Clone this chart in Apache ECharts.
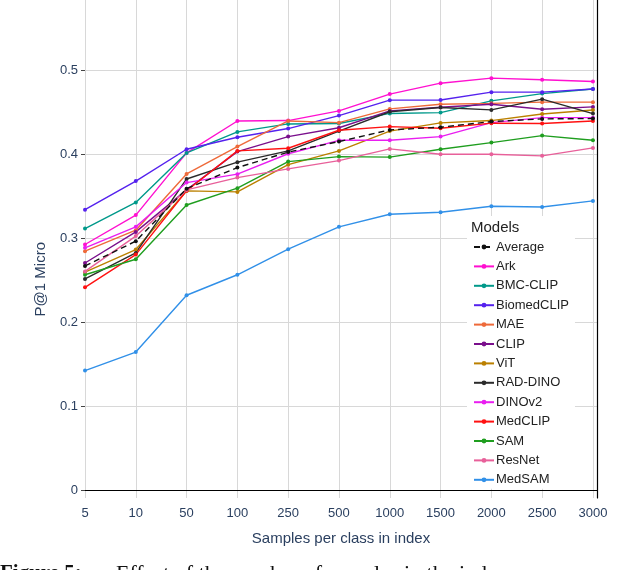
<!DOCTYPE html>
<html>
<head>
<meta charset="utf-8">
<script src="https://cdn.jsdelivr.net/npm/echarts@6/dist/echarts.min.js"></script>
<style>html,body{margin:0;padding:0;background:#fff}#c{width:636px;height:570px}</style>
</head>
<body>
<div id="c"></div>
<script>
const xCats = ['5','10','50','100','250','500','1000','1500','2000','2500','3000'];
const yTicks = [0, 0.1, 0.2, 0.3, 0.4, 0.5];
const seriesNames = ['Average','Ark','BMC-CLIP','BiomedCLIP','MAE','CLIP','ViT','RAD-DINO','DINOv2','MedCLIP','SAM','ResNet','MedSAM'];
const average    = [0.2675,0.297,0.3595,0.3845,0.403,0.4155,0.4294,0.4326,0.4393,0.4425,0.4429];
const ark        = [0.293,0.328,0.402,0.440,0.4405,0.452,0.472,0.485,0.491,0.489,0.487];
const bmcClip    = [0.312,0.343,0.402,0.427,0.4365,0.437,0.449,0.450,0.464,0.4726,0.478];
const biomedClip = [0.3345,0.3685,0.4064,0.4207,0.431,0.4464,0.4648,0.465,0.4743,0.4743,0.478];
const mae        = [0.285,0.310,0.377,0.4095,0.440,0.438,0.4544,0.460,0.461,0.4624,0.4624];
const clip       = [0.271,0.308,0.358,0.4036,0.4214,0.432,0.452,0.4564,0.460,0.454,0.4568];
const vit        = [0.260,0.287,0.3568,0.3556,0.388,0.4044,0.428,0.4377,0.4405,0.4484,0.453];
const radDino    = [0.252,0.283,0.371,0.391,0.4044,0.428,0.451,0.456,0.4532,0.466,0.4488];
const dinov2     = [0.289,0.314,0.3667,0.3767,0.401,0.417,0.417,0.4214,0.438,0.444,0.444];
const medClip    = [0.242,0.281,0.357,0.4044,0.4076,0.429,0.4333,0.4314,0.4374,0.437,0.440];
const sam        = [0.257,0.2755,0.340,0.360,0.3917,0.3976,0.397,0.4064,0.4143,0.4226,0.4171];
const resnet     = [0.261,0.303,0.358,0.3726,0.383,0.3929,0.4068,0.4005,0.4005,0.3985,0.408];
const medSam     = [0.143,0.165,0.2326,0.257,0.2874,0.314,0.329,0.3314,0.3386,0.3377,0.3449];
const seriesValues = [average, ark, bmcClip, biomedClip, mae, clip, vit, radDino, dinov2, medClip, sam, resnet, medSam];
const colors = ['#111111','#ff10d0','#00998a','#5522ee','#ee6a3a','#7a0f8c','#bb8000','#2b2b2b','#e91ef0','#ff1111','#1f9e1f','#e8609a','#3190e8'];

const FONT = 'Liberation Sans, Arial, sans-serif';
const TXT = '#2a3f5f';

const chart = echarts.init(document.getElementById('c'), null, {renderer: 'canvas'});
const series = seriesNames.map((name, k) => ({
  name: name,
  type: 'line',
  data: seriesValues[k].map((v, i) => [i, v]),
  symbol: 'circle',
  symbolSize: 4,
  showSymbol: true,
  color: colors[k],
  lineStyle: {width: 1.4, type: k === 0 ? [6, 4] : 'solid', color: colors[k]},
  itemStyle: {color: colors[k]},
  z: k === 0 ? 3 : 2
}));

chart.setOption({
  animation: false,
  backgroundColor: '#fff',
  grid: {left: 85, right: 39, top: 0, bottom: 72, containLabel: false},
  xAxis: {
    type: 'value', min: 0, max: 10.08, interval: 1,
    axisLine: {show: true, lineStyle: {color: '#000', width: 1.2}},
    axisTick: {show: false},
    axisLabel: {
      color: TXT, fontFamily: FONT, fontSize: 13, margin: 9,
      formatter: v => (Number.isInteger(v) && xCats[v] !== undefined) ? xCats[v] : ''
    },
    splitLine: {show: true, lineStyle: {color: '#d8d8d8', width: 1}},
    name: 'Samples per class in index', nameLocation: 'middle', nameGap: 33,
    nameTextStyle: {color: TXT, fontFamily: FONT, fontSize: 15}
  },
  yAxis: [{
    type: 'value', min: -0.0087, max: 0.584,
    axisLine: {show: false},
    axisTick: {show: true, length: 4, customValues: yTicks, lineStyle: {color: '#444'}},
    axisLabel: {show: true, customValues: yTicks, color: TXT, fontFamily: FONT, fontSize: 13, margin: 7,
      formatter: v => String(Math.round(v * 10) / 10)},
    splitLine: {show: true, lineStyle: {color: '#d8d8d8', width: 1}}
  }, {
    type: 'value', min: -0.0087, max: 0.584, position: 'right',
    axisLine: {show: true, lineStyle: {color: '#000', width: 1.2}},
    axisTick: {show: false}, axisLabel: {show: false}, splitLine: {show: false}
  }],
  legend: {
    orient: 'vertical', left: 467, top: 216,
    padding: [24, 6, 2, 6],
    backgroundColor: '#ffffff',
    itemWidth: 20, itemHeight: 6, itemGap: 5.4,
    data: seriesNames,
    textStyle: {color: '#222', fontFamily: FONT, fontSize: 13, lineHeight: 14, padding: [0, 0, 0, -3]},
    itemStyle: {borderWidth: 0}
  },
  graphic: [
    {type: 'text', left: 471, top: 220, z: 100,
      style: {text: 'Models', fill: '#222', font: '15px ' + FONT}},
    {type: 'text', left: 33, top: 242, rotation: Math.PI / 2, z: 100,
      style: {text: 'P@1 Micro', fill: TXT, font: '15px ' + FONT, align: 'center', verticalAlign: 'middle'}},
    {type: 'text', left: 0, top: 563, z: 100,
      style: {text: 'Figure 5:', fill: '#111', font: 'bold 21px Liberation Serif, serif'}},
    {type: 'text', left: 116, top: 563, z: 100,
      style: {text: 'Effect of the number of samples in the index', fill: '#111', font: '22px Liberation Serif, serif'}}
  ],
  series: series
});
</script>
</body>
</html>
